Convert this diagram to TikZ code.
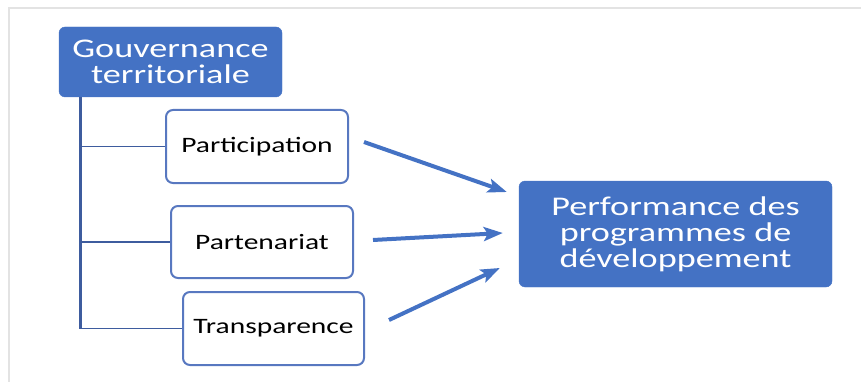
\documentclass[tikz,border=0pt]{standalone}
\usepackage{fontspec}
\setmainfont{Carlito}[FakeStretch=1.34]
\usepackage{tikz}
\usetikzlibrary{arrows.meta}
\usepackage{xcolor}
\definecolor{customblue}{HTML}{4472C4}
\definecolor{customline}{HTML}{3E5C9E}
\definecolor{customedge}{HTML}{5878C0}
\definecolor{customgray}{HTML}{E3E3E3}

\begin{document}
\begin{tikzpicture}[x = 1pt, y = -1pt,
    bluebox/.style = {fill = customblue, draw = customblue, rounded corners = 6pt, text = white, align = center,
        font = \fontsize{27}{26}\selectfont, inner sep = 0pt},
    whitebox/.style = {fill = white, draw = customedge, line width = 2pt, rounded corners = 7pt,
        font = \fontsize{22}{24}\selectfont, inner sep = 0pt},
    link/.style = {->, > = {Stealth[length = 19pt, width = 14pt, inset = 4pt]}, line width = 4pt, color = customblue}]
        \useasboundingbox (0, 0) rectangle (861, 382);

        % Frame
        \draw [customgray, line width = 2pt] (8.5, 382) -- (8.5, 8.5) -- (861, 8.5);

        % Nodes
        \node [bluebox, minimum width = 223pt, minimum height = 70pt] (gouv) at (170.5, 62) {Gouvernance\\territoriale};
        \node [whitebox, minimum width = 182pt, minimum height = 73pt] (part) at (257, 146.5) {Participation};
        \node [whitebox, minimum width = 182pt, minimum height = 72pt] (parten) at (262, 242) {Partenariat};
        \node [whitebox, minimum width = 181pt, minimum height = 73pt] (transp) at (273.5, 328.5) {Transparence};
        \node [bluebox, minimum width = 313pt, minimum height = 106pt] (perf) at (675.5, 234) {Performance des\\programmes de\\développement};

        % Draw the tree
        \coordinate (trunk) at (80, 97);
        \draw [customline, line width = 3pt] (trunk) -- (trunk |- transp.west);
        \draw [customline, line width = 1.8pt] (trunk |- part.west) -- (part.west);
        \draw [customline, line width = 1.8pt] (trunk |- parten.west) -- (parten.west);
        \draw [customline, line width = 1.8pt] (trunk |- transp.west) -- (transp.west);

        % Draw the links
        \draw [link] ([xshift = 15pt, yshift = 4.5pt]part.east) -- ([xshift = -12pt, yshift = 42pt]perf.west);
        \draw [link] ([xshift = 19pt, yshift = 2pt]parten.east) -- ([xshift = -16pt, yshift = 1pt]perf.west);
        \draw [link] ([xshift = 24pt, yshift = 8.5pt]transp.east) -- ([xshift = -19pt, yshift = -34pt]perf.west);

    \end{tikzpicture}
\end{document}
